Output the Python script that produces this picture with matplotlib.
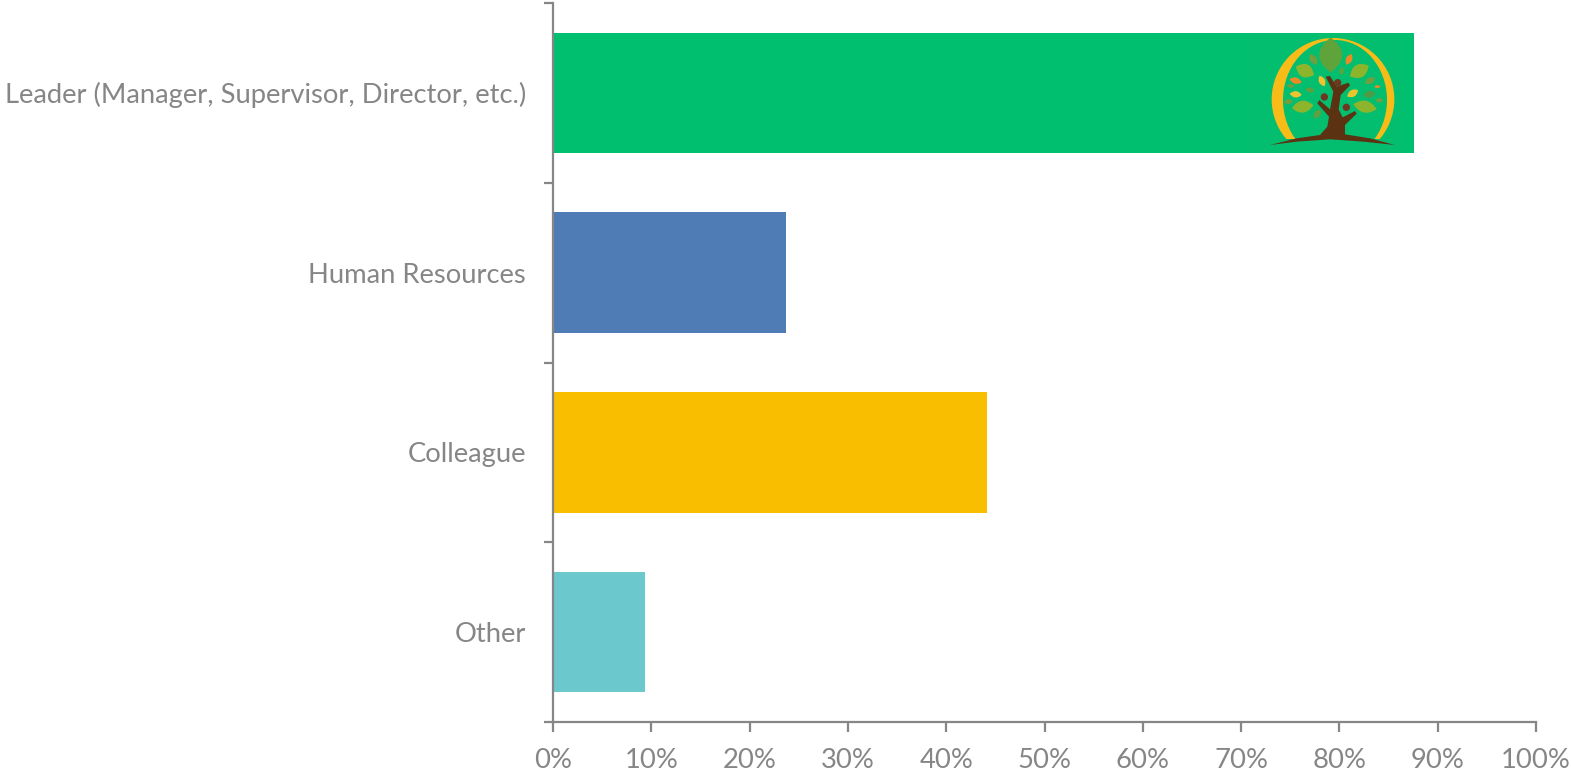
import numpy as np
import matplotlib
matplotlib.use('Agg')
import matplotlib.pyplot as plt
from matplotlib.patches import Ellipse, Polygon, Circle, Rectangle, PathPatch
from matplotlib.path import Path

categories = ['Leader (Manager, Supervisor, Director, etc.)', 'Human Resources', 'Colleague', 'Other']
values = [87.6, 23.7, 44.1, 9.4]
colors = ['#00BF6F', '#507CB6', '#F9BE00', '#6BC8CD']
x_ticks = [0, 10, 20, 30, 40, 50, 60, 70, 80, 90, 100]

W, H = 1571, 773
GREY = '#868686'
LOGO_BG = '#04BE70'

plt.rcParams['font.family'] = ['Lato', 'DejaVu Sans']


def add_leaf(ax, x, y, length, width, angle, color):
    a = np.radians(angle)
    ca, sa = np.cos(a), np.sin(a)
    pts = [(-length / 2, 0), (0, width), (length / 2, 0), (0, -width), (-length / 2, 0)]
    pts = [(x + px * ca - py * sa, y + px * sa + py * ca) for px, py in pts]
    codes = [Path.MOVETO, Path.CURVE3, Path.CURVE3, Path.CURVE3, Path.CURVE3]
    ax.add_patch(PathPatch(Path(pts, codes), color=color, lw=0))


fig = plt.figure(figsize=(W / 100, H / 100), dpi=100)
ax = fig.add_axes([553 / W, 1 - 722 / H, (1536 - 553) / W, (722 - 3) / H])

positions = list(range(len(categories)))
ax.barh(positions, values, height=0.67, color=colors, linewidth=0)

ax.set_xlim(0, 100)
ax.set_ylim(len(categories) - 0.5, -0.5)
ax.set_xticks(x_ticks)
ax.set_xticklabels([f'{v}%' for v in x_ticks])
ax.set_yticks(positions)
ax.set_yticklabels(categories)

# y ticks sit between the categories, not on them
ax.set_yticks([p - 0.5 for p in positions] + [len(categories) - 0.5], minor=True)
ax.tick_params(axis='y', which='major', length=0, pad=19.3, labelsize=19.7, labelcolor=GREY)
ax.tick_params(axis='y', which='minor', length=6.5, width=1.6, color=GREY, direction='out')
ax.tick_params(axis='x', which='major', length=7, width=1.6, color=GREY, pad=12, labelsize=19.7, labelcolor=GREY)

for side in ['top', 'right']:
    ax.spines[side].set_visible(False)
for side in ['left', 'bottom']:
    ax.spines[side].set_color(GREY)
    ax.spines[side].set_linewidth(1.6)

# logo pasted on the first bar, its own axes with coordinates measured off a 3x crop
logo = fig.add_axes([1247 / W, 1 - 153 / H, 156 / W, 120 / H])
logo.set_xlim(51, 519)
logo.set_ylim(399, 39)
logo.axis('off')
logo.add_patch(Rectangle((51, 39), 468, 360, color=LOGO_BG, lw=0))

logo.add_patch(Circle((309, 238), 184, color='#F7BC17', lw=0))
logo.add_patch(Ellipse((315, 240), 312, 360, color=LOGO_BG, lw=0))
logo.add_patch(Rectangle((51, 358), 468, 41, color=LOGO_BG, lw=0))

leaves = [
    (302, 105, 105, 70, 90, '#5FA43A'), (225, 152, 60, 40, 25, '#8DB52C'), (388, 153, 65, 40, -30, '#8DB52C'),
    (250, 118, 38, 22, 55, '#6F9F3E'), (357, 118, 36, 20, -65, '#E88A26'), (197, 182, 38, 20, 15, '#E88A26'),
    (276, 183, 35, 20, 65, '#F0C430'), (335, 153, 25, 14, 95, '#5FA43A'), (182, 198, 22, 12, 5, '#6F9F3E'),
    (197, 223, 36, 20, 5, '#F0C430'), (240, 210, 28, 16, 10, '#5FA040'), (420, 182, 35, 20, -25, '#6F9F3E'),
    (442, 200, 18, 10, 0, '#E88A26'), (368, 220, 38, 22, -30, '#E6C52E'), (418, 223, 38, 22, -10, '#4F9B45'),
    (175, 245, 28, 16, -5, '#6F9F3E'), (218, 260, 65, 36, -8, '#8DB52C'), (405, 260, 72, 36, 12, '#8DB52C'),
    (448, 241, 24, 14, 5, '#6F9F3E'), (262, 282, 32, 20, -50, '#5FA040'),
]
for x, y, length, width, angle, c in leaves:
    add_leaf(logo, x, y, length, width, angle, c)

logo.add_patch(Polygon(
    [(120, 375), (200, 355), (270, 345), (292, 320), (297, 290), (262, 250), (268, 240), (300, 268),
     (310, 215), (287, 170), (300, 168), (320, 200), (355, 188), (360, 196), (332, 225), (326, 268),
     (338, 292), (375, 273), (380, 281), (345, 315), (345, 343), (420, 355), (495, 375), (400, 365),
     (300, 358), (200, 365)],
    closed=True, color='#5B3312', lw=0))
for x, y in [(323, 188), (283, 231), (349, 262)]:
    logo.add_patch(Ellipse((x, y), 22, 22, color='#6E3820', lw=0))

fig.savefig('out.png', dpi=100)
